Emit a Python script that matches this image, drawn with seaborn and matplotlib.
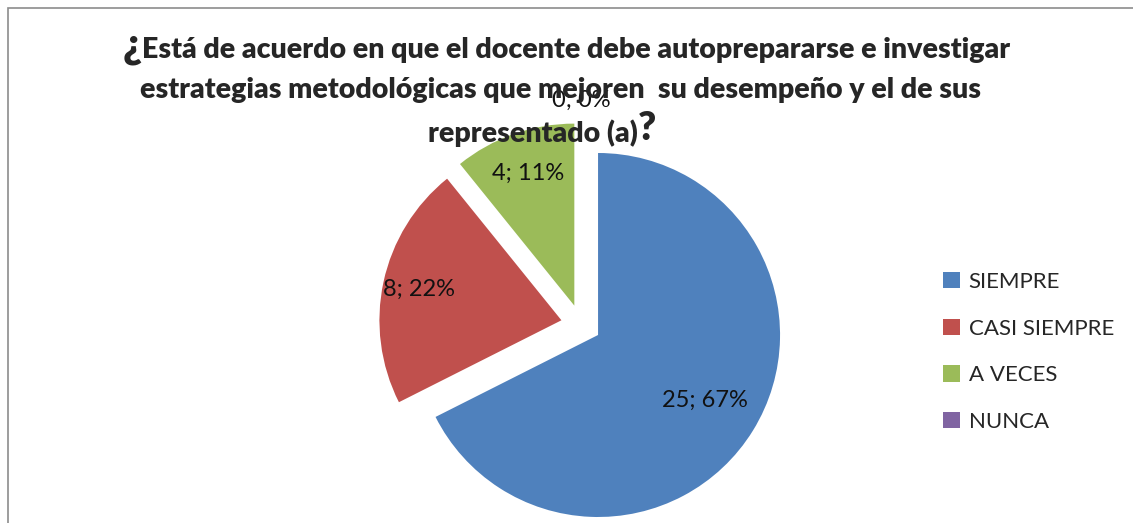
import numpy as np
import matplotlib
matplotlib.use("Agg")
import matplotlib.pyplot as plt
import seaborn as sns
from matplotlib.patches import Patch, Rectangle

categories = ["SIEMPRE", "CASI SIEMPRE", "A VECES", "NUNCA"]
counts = [25, 8, 4, 0]
pct_labels = [67, 22, 11, 0]
title_lines = [
    "Está de acuerdo en que el docente debe autoprepararse e investigar",
    "estrategias metodológicas que mejoren  su desempeño y el de sus",
    "representado (a)",
]

colors = sns.color_palette(["#4F81BD", "#C0504D", "#9BBB59", "#8064A2"])

sns.set_theme(style="white")
plt.rcParams["font.family"] = ["Lato", "DejaVu Sans"]

W, H = 1133, 523
fig = plt.figure(figsize=(W / 100, H / 100), dpi=100)

# chart frame (cropped on right / bottom like the original)
fig.add_artist(Rectangle((8 / W, -0.05), 1.2, (H - 8) / H + 0.05,
                         transform=fig.transFigure, fill=False,
                         edgecolor="#8c8c8c", lw=1.2))

cx, cy, R = 581, 324.5, 182
half = 260
ax = fig.add_axes([(cx - half) / W, (H - cy - half) / H, 2 * half / W, 2 * half / H])
explode = [0.11] * len(counts)
wedges, _ = ax.pie(counts, colors=colors, startangle=90, counterclock=False,
                   explode=explode, radius=1,
                   wedgeprops=dict(linewidth=0))
ax.set_xlim(-half / R, half / R)
ax.set_ylim(-half / R, half / R)
ax.set_aspect("equal")
ax.axis("off")

label_dist = [0.69, 0.80, 0.77, 1.12]
for w, n, p, d, e in zip(wedges, counts, pct_labels, label_dist, explode):
    mid = np.deg2rad((w.theta1 + w.theta2) / 2)
    x = (e + d) * np.cos(mid)
    y = (e + d) * np.sin(mid)
    ax.text(x, y, f"{n}; {p}%", ha="center", va="center", fontsize=17, color="#111111")

# title
fs = 20.5
fig.text(142 / W, 1 - 50 / H, title_lines[0], ha="left", va="center",
         fontsize=fs, fontweight="heavy")
fig.text(142 / W, 1 - 46 / H, "¿", ha="right", va="center",
         fontsize=30, fontweight="heavy")
fig.text(560 / W, 1 - 90 / H, title_lines[1], ha="center", va="center",
         fontsize=fs, fontweight="heavy")
fig.text(638 / W, 1 - 133 / H, title_lines[2], ha="right", va="center",
         fontsize=fs, fontweight="heavy")
fig.text(638 / W, 1 - 129 / H, "?", ha="left", va="center",
         fontsize=28, fontweight="heavy")

handles = [Patch(facecolor=c, edgecolor="none") for c in colors]
fig.legend(handles, categories, loc="upper left",
           bbox_to_anchor=(923 / W, 1 - 252 / H), frameon=False,
           fontsize=16, handlelength=0.75, handleheight=0.75,
           handletextpad=0.4, labelspacing=1.2)

fig.savefig("out.png", dpi=100)
